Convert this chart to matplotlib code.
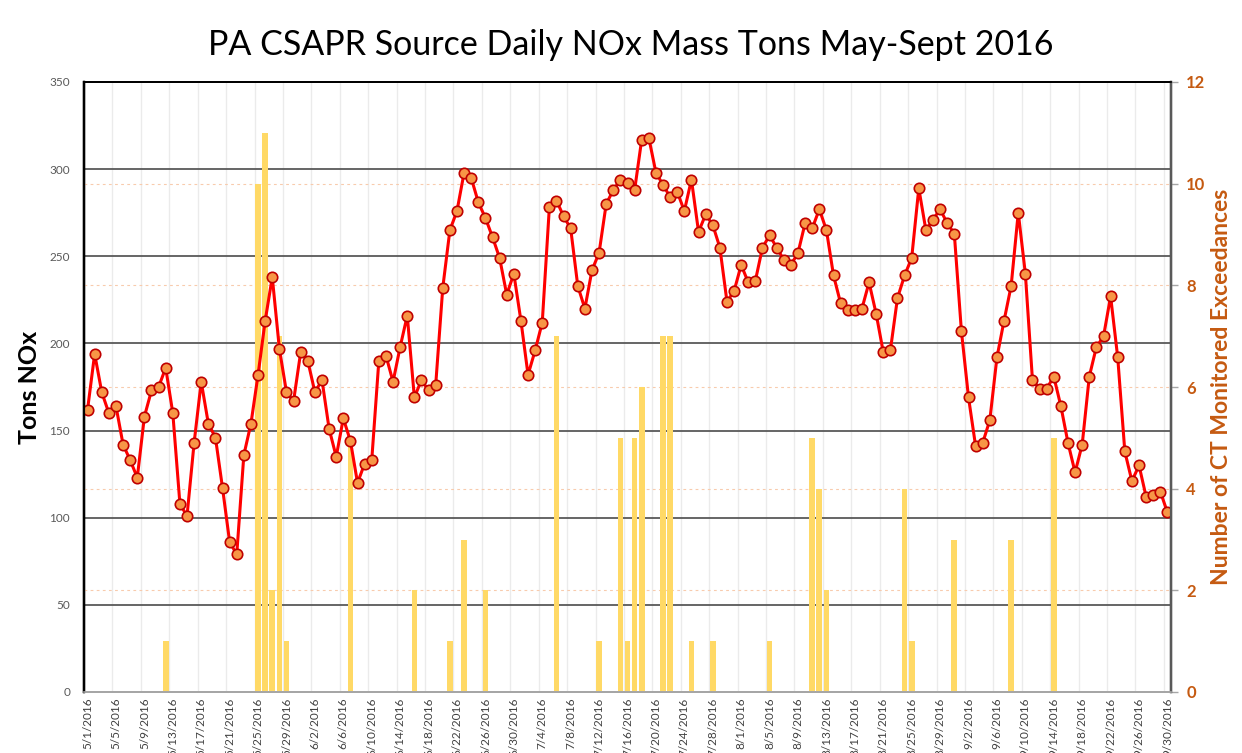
import matplotlib
matplotlib.use("Agg")
import matplotlib.pyplot as plt
import numpy as np
import pandas as pd

# ---------------- data ----------------
start_date = "2016-05-01"
end_date = "2016-09-30"

nox_may = [162, 194, 172, 160, 164, 142, 133, 123, 158, 173, 175, 186, 160, 108, 101,
           143, 178, 154, 146, 117, 86, 79, 136, 154, 182, 213, 238, 197, 172, 167, 195]
nox_jun = [190, 172, 179, 151, 135, 157, 144, 120, 131, 133, 190, 193, 178, 198, 216,
           169, 179, 173, 176, 232, 265, 276, 298, 295, 281, 272, 261, 249, 228, 240]
nox_jul = [213, 182, 196, 212, 278, 282, 273, 266, 233, 220, 242, 252, 280, 288, 294,
           292, 288, 317, 318, 298, 291, 284, 287, 276, 294, 264, 274, 268, 255, 224, 230]
nox_aug = [245, 235, 236, 255, 262, 255, 248, 245, 252, 269, 266, 277, 265, 239, 223,
           219, 219, 220, 235, 217, 195, 196, 226, 239, 249, 289, 265, 271, 277, 269, 263]
nox_sep = [207, 169, 141, 143, 156, 192, 213, 233, 275, 240, 179, 174, 174, 181, 164,
           143, 126, 142, 181, 198, 204, 227, 192, 138, 121, 130, 112, 113, 115, 103]

# CT monitored exceedances (only days with non-zero counts)
exceed_dates = ["2016-05-12", "2016-05-25", "2016-05-26", "2016-05-27", "2016-05-28",
                "2016-05-29", "2016-06-07", "2016-06-16", "2016-06-21", "2016-06-23",
                "2016-06-26", "2016-07-06", "2016-07-12", "2016-07-15", "2016-07-16",
                "2016-07-17", "2016-07-18", "2016-07-21", "2016-07-22", "2016-07-25",
                "2016-07-28", "2016-08-05", "2016-08-11", "2016-08-12", "2016-08-13",
                "2016-08-24", "2016-08-25", "2016-08-31", "2016-09-08", "2016-09-14"]
exceed_counts = [1, 10, 11, 2, 7, 1, 5, 2, 1, 3, 2, 7, 1, 5, 1,
                 5, 6, 7, 7, 1, 1, 1, 5, 4, 2, 4, 1, 3, 3, 5]

# ---------------- prep ----------------
dates = pd.date_range(start_date, end_date, freq="D")
nox = nox_may + nox_jun + nox_jul + nox_aug + nox_sep
exc_series = pd.Series(0, index=dates)
exc_series.loc[pd.to_datetime(exceed_dates)] = exceed_counts
exceed = exc_series.values
labels = [f"{d.month}/{d.day}/{d.year}" for d in dates]
x = np.arange(len(dates))

FONT = ["Lato", "DejaVu Sans"]
plt.rcParams["font.family"] = FONT

ORANGE_TXT = "#C55A11"

fig = plt.figure(figsize=(12.42, 7.53), dpi=100)
ax = fig.add_axes([84 / 1242, 1 - 692 / 753, (1171 - 84) / 1242, (692 - 82) / 753])
ax2 = ax.twinx()
ax3 = ax.twinx()

# left axis: gridlines
ax.set_ylim(0, 350)
ax.set_yticks(np.arange(0, 351, 50))
ax.set_xlim(-0.5, len(x) - 0.5)
for yv in range(50, 301, 50):
    ax.axhline(yv, color="#595959", lw=1.3, zorder=1)
for k in range(1, len(x) // 4 + 1):
    ax.axvline(4 * k - 0.5, color="#EBEBEB", lw=1.0, zorder=0)
ax.set_xticks(x[::4])
ax.set_xticklabels(labels[::4], rotation=90, fontsize=8.5, color="#404040")
ax.tick_params(axis="x", length=0, pad=4)
ax.tick_params(axis="y", length=0, labelsize=8.5, labelcolor="#595959", pad=10)
ax.set_ylabel("Tons NOx", fontsize=18, fontweight="bold", color="black", labelpad=6)

# right axis: bars
ax2.set_ylim(0, 12)
ax2.set_yticks(np.arange(0, 13, 2))
for yv in range(2, 11, 2):
    ax2.axhline(yv, color="#F8CBAD", lw=0.8, ls=(0, (2.5, 3)), zorder=0)
ax2.bar(x, exceed, width=0.8, color="#FFD966", zorder=2)
ax2.tick_params(axis="y", length=5, width=1, color="#A6A6A6", labelsize=12,
                labelcolor=ORANGE_TXT, pad=6)
for t in ax2.get_yticklabels():
    t.set_fontweight("bold")
ax2.set_ylabel("Number of CT Monitored Exceedances", fontsize=16.5, fontweight="bold",
               color=ORANGE_TXT, labelpad=4)

# line on third axes sharing left scale
ax3.set_ylim(0, 350)
ax3.plot(x, nox, color="#FF0000", lw=2.2, marker="o", markersize=7.5,
         markerfacecolor="#F79646", markeredgecolor="#C00000", markeredgewidth=1.2)
ax3.set_yticks([])

for a in (ax, ax2, ax3):
    a.spines["left"].set_color("black")
    a.spines["left"].set_linewidth(1.6)
    a.spines["top"].set_color("black")
    a.spines["top"].set_linewidth(1.2)
    a.spines["right"].set_color("#595959")
    a.spines["right"].set_linewidth(1.6)
    a.spines["bottom"].set_color("#A6A6A6")
    a.spines["bottom"].set_linewidth(1.2)

fig.text(0.5075, 1 - 45 / 753, "PA CSAPR Source Daily NOx Mass Tons May-Sept 2016",
         ha="center", va="center", fontsize=24.5, color="black")

fig.savefig("out.png", dpi=100)
